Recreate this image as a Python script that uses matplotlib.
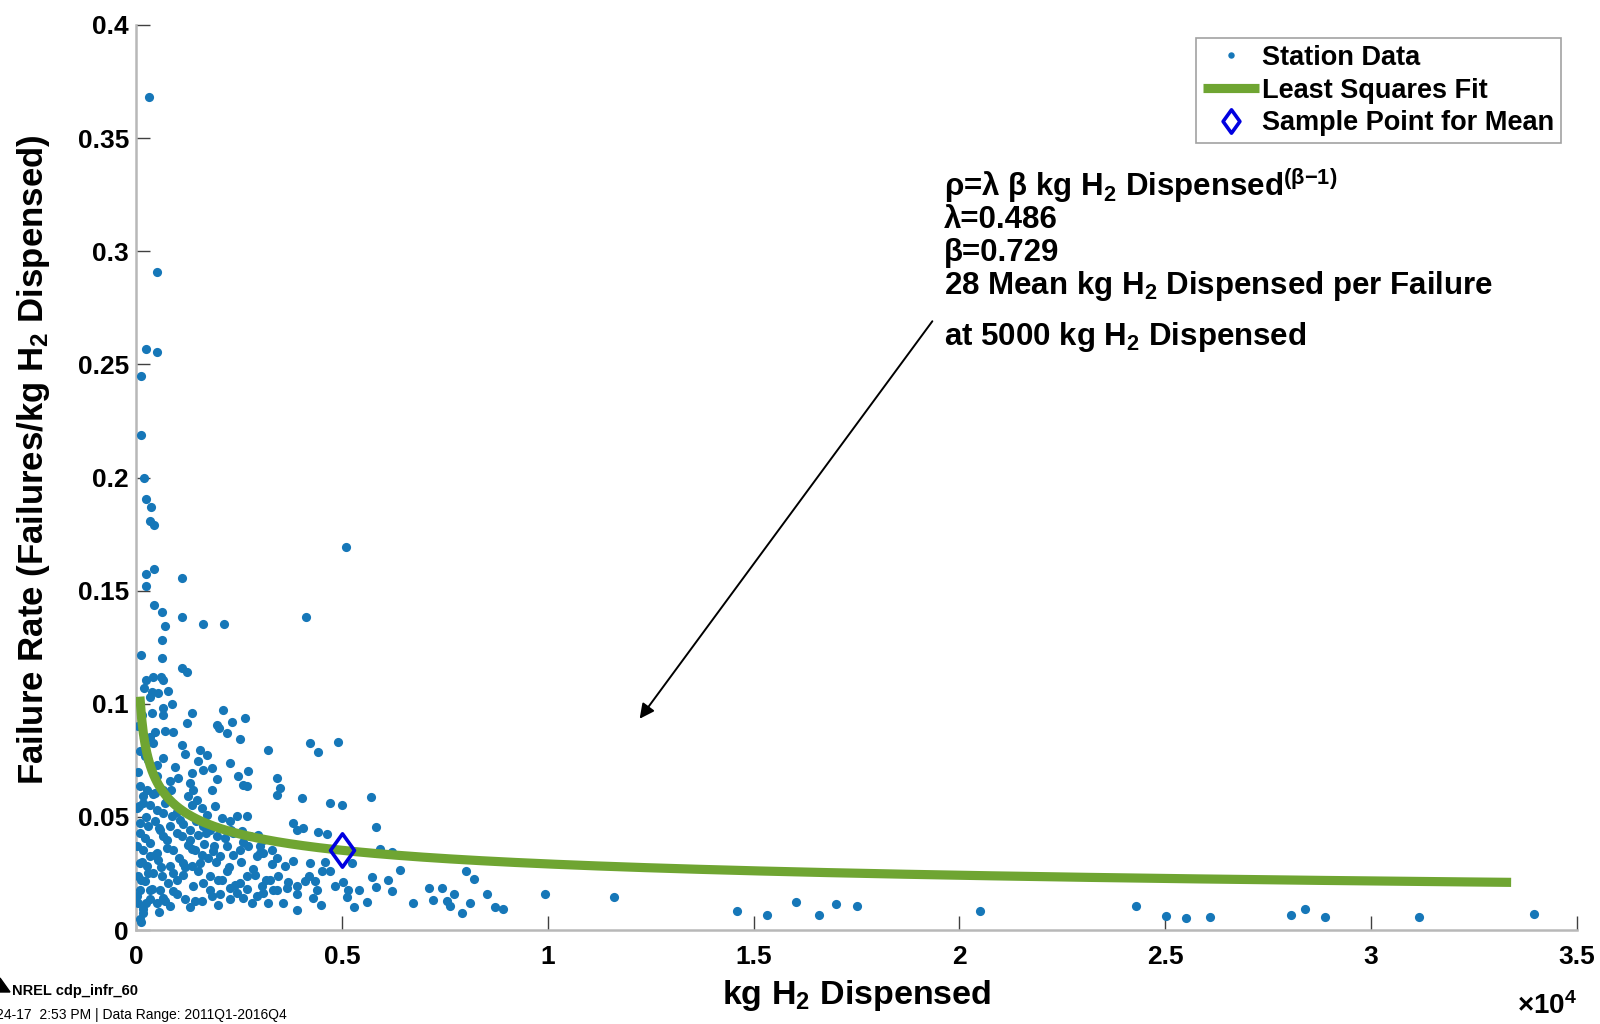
import numpy as np
import matplotlib
matplotlib.use("Agg")
import matplotlib.pyplot as plt
from matplotlib.path import Path
from matplotlib.patches import Polygon, FancyArrowPatch

FONT = ['Liberation Sans', 'DejaVu Sans']
plt.rcParams['font.family'] = FONT
plt.rcParams['font.weight'] = 'bold'
plt.rcParams['mathtext.fontset'] = 'custom'
plt.rcParams['mathtext.bf'] = 'Liberation Sans:bold'
plt.rcParams['mathtext.rm'] = 'Liberation Sans:bold'
plt.rcParams['mathtext.it'] = 'Liberation Sans:bold:italic'
plt.rcParams['mathtext.default'] = 'bf'

# ---------------- data ----------------
station_kg = [
    316, 517, 236, 517, 121, 121, 202, 236, 357, 340, 437, 5101, 437, 236, 236,
    1110, 437, 639, 1110, 1620, 2130, 4122, 712, 639, 121, 639, 1110, 1231, 236,
    405, 656, 202, 542, 770, 340,
    380, 664, 867, 664, 1353, 2122,
    1231, 907, 462, 340, 1960, 2025, 2325, 2649, 2203, 2527, 3216, 4228, 4431, 4917,
    1110, 421, 97, 219, 1555, 1717, 664, 502, 1515, 1839, 1636, 1353, 2284,
    2487, 2730, 2608, 2689, 1029, 826, 1312, 1393, 1960, 3418, 3499, 3418, 97, 259,
    178, 462, 664, 745,
    20, 178, 340, 502, 664, 867, 1069, 1272, 1474, 1353, 1596, 1717, 1920, 2082,
    2284, 2446, 2689, 4026, 4714, 4998, 1839,
    97, 300, 462, 583, 826, 988, 1110, 1312, 1515, 1636, 1798, 1960, 2163, 2365,
    2568, 2770, 2973, 3094, 3823, 3904, 4066, 4431, 4633, 97, 219, 340, 664,
    20, 178, 340, 502, 745, 907, 1272, 1434, 1596, 1758, 1879, 2041, 2203, 2365,
    2527, 2730, 2932, 3094, 3297, 3418, 3620, 3823, 4228, 4511, 4714, 97, 259, 543,
    826, 1150, 1353, 1555,
    57, 219, 421, 624, 786, 988, 1150, 1393, 1636, 1798, 2001, 2203, 2284, 2527,
    2689, 2892, 3054, 3256, 3418, 3661, 3904, 4107, 4350, 4390, 4836, 97, 340, 583, 907,
    57, 178, 340, 502, 664, 826, 1191, 1434, 1839, 2041, 2284, 2446, 2811, 2932,
    3094, 3337, 3580, 4309, 97, 178, 114,
    150, 300, 450, 600, 750, 900, 1050, 1200, 1350, 1500, 1650, 1800, 1950, 2100,
    2250, 2400, 2550, 2700, 2850, 3000, 3150, 3300, 3450, 3700, 3900, 4200, 4600,
    80, 250, 420, 560, 700, 850, 1000, 1150, 1300, 1450, 1700, 1900, 2300, 2600, 3000,
    60, 200, 300, 500, 700, 950, 1200, 50, 150, 400, 600,
    30, 120, 250, 400, 550, 700, 1000, 1300, 1600, 2000, 2600, 3200, 3900, 4500, 5300,
    5700, 5822, 5927, 6210, 5239, 5036, 5158, 5117, 5425, 5619, 5725, 5822, 6130,
    6210, 6413, 6721, 7126, 7223, 7426, 7547, 7725, 7628, 7911, 8017, 8114, 8219,
    8519, 8722, 8908, 9937,
    11619, 14608, 15321, 16026, 16601, 17006, 17508, 20505,
    24294, 25013, 25509, 26079, 28062, 28385, 28880, 31161, 33963,
]
station_rate = [
    0.368, 0.2907, 0.257, 0.2553, 0.245, 0.219, 0.1997, 0.1905, 0.187, 0.1808, 0.1789,
    0.1692, 0.1596, 0.1575, 0.1521, 0.1554, 0.1437, 0.1404, 0.1385, 0.1354, 0.1354,
    0.1385, 0.1342, 0.1280, 0.1216, 0.1204, 0.1158, 0.1139, 0.1105, 0.1117, 0.1106,
    0.1068, 0.1046, 0.1058, 0.1031,
    0.0961, 0.0980, 0.0999, 0.0951, 0.0958, 0.0973,
    0.0917, 0.0873, 0.0877, 0.0855, 0.0907, 0.0892, 0.0921, 0.0936, 0.0870, 0.0843,
    0.0796, 0.0826, 0.0785, 0.0833,
    0.0818, 0.0826, 0.0789, 0.0767, 0.0796, 0.0774, 0.0760, 0.0730, 0.0745, 0.0716,
    0.0708, 0.0694, 0.0738,
    0.0679, 0.0701, 0.0642, 0.0635, 0.0671, 0.0657, 0.0649, 0.0620, 0.0667, 0.0671,
    0.0627, 0.0598, 0.0635, 0.0620, 0.0591, 0.0605, 0.0620, 0.0576,
    0.0539, 0.0561, 0.0554, 0.0532, 0.0517, 0.0502, 0.0488, 0.0591, 0.0576, 0.0554,
    0.0539, 0.0510, 0.0546, 0.0495, 0.0480, 0.0502, 0.0502, 0.0583, 0.0561, 0.0554,
    0.0620,
    0.0473, 0.0458, 0.0480, 0.0444, 0.0458, 0.0429, 0.0414, 0.0444, 0.0422, 0.0458,
    0.0444, 0.0414, 0.0407, 0.0429, 0.0436, 0.0414, 0.0422, 0.0400, 0.0473, 0.0444,
    0.0451, 0.0432, 0.0426, 0.0429, 0.0407, 0.0385, 0.0414,
    0.0370, 0.0355, 0.0326, 0.0341, 0.0363, 0.0355, 0.0377, 0.0355, 0.0333, 0.0319,
    0.0348, 0.0326, 0.0370, 0.0333, 0.0355, 0.0370, 0.0326, 0.0341, 0.0355, 0.0319,
    0.0282, 0.0304, 0.0297, 0.0260, 0.0260, 0.0297, 0.0282, 0.0311, 0.0282, 0.0297,
    0.0282, 0.0297,
    0.0238, 0.0216, 0.0252, 0.0238, 0.0208, 0.0223, 0.0245, 0.0194, 0.0208, 0.0179,
    0.0223, 0.0260, 0.0186, 0.0208, 0.0238, 0.0245, 0.0194, 0.0223, 0.0179, 0.0186,
    0.0194, 0.0216, 0.0216, 0.0179, 0.0194, 0.0179, 0.0179, 0.0179, 0.0172,
    0.0120, 0.0091, 0.0135, 0.0120, 0.0142, 0.0105, 0.0135, 0.0128, 0.0150, 0.0157,
    0.0135, 0.0164, 0.0120, 0.0150, 0.0164, 0.0179, 0.0120, 0.0142, 0.0047, 0.0076,
    0.0037,
    0.030, 0.025, 0.033, 0.028, 0.040, 0.025, 0.032, 0.028, 0.036, 0.026, 0.038,
    0.024, 0.030, 0.022, 0.028, 0.020, 0.030, 0.018, 0.027, 0.034, 0.022, 0.029,
    0.024, 0.021, 0.016, 0.024, 0.030,
    0.055, 0.050, 0.060, 0.045, 0.056, 0.062, 0.052, 0.047, 0.040, 0.048, 0.043,
    0.037, 0.044, 0.039, 0.037,
    0.070, 0.085, 0.075, 0.068, 0.088, 0.072, 0.078, 0.090, 0.095, 0.105, 0.112,
    0.015, 0.022, 0.012, 0.018, 0.008, 0.013, 0.016, 0.010, 0.013, 0.011, 0.014,
    0.012, 0.009, 0.011, 0.010,
    0.0588, 0.0454, 0.0358, 0.0344, 0.0297, 0.0211, 0.0179, 0.0147, 0.0176, 0.0123,
    0.0235, 0.0191, 0.0223, 0.0172, 0.0264, 0.0120, 0.0186, 0.0132, 0.0186, 0.0128,
    0.0161, 0.0108, 0.0073, 0.0260, 0.0120, 0.0226, 0.0157, 0.0103, 0.0094, 0.0161,
    0.0144, 0.0086, 0.0067, 0.0125, 0.0067, 0.0114, 0.0104, 0.0082,
    0.0108, 0.0063, 0.0054, 0.0059, 0.0068, 0.0095, 0.0059, 0.0059, 0.0072,
]

# Least-squares fit parameters (as printed on the chart)
lam = 0.486
beta = 0.729
fit_start_kg = 95
fit_end_kg = 33400
sample_kg = 5000

x_ticks = [0, 5000, 10000, 15000, 20000, 25000, 30000, 35000]
x_tick_labels = ['0', '0.5', '1', '1.5', '2', '2.5', '3', '3.5']
y_ticks = [0, 0.05, 0.1, 0.15, 0.2, 0.25, 0.3, 0.35, 0.4]
y_tick_labels = ['0', '0.05', '0.1', '0.15', '0.2', '0.25', '0.3', '0.35', '0.4']

# ---------------- figure ----------------
W, H = 1600, 1024
fig = plt.figure(figsize=(W / 100, H / 100), dpi=100)
ax = fig.add_axes([136 / W, 1 - 930 / H, 1441 / W, 905 / H])

dot_color = '#1677b8'
green = '#6fa532'
dblue = '#0000e0'

ax.plot(station_kg, station_rate, 'o', ms=6.6, mfc=dot_color, mec='none',
        label='Station Data', zorder=3)

fit_x = np.linspace(fit_start_kg, fit_end_kg, 800)
fit_y = lam * beta * fit_x ** (beta - 1)
ax.plot(fit_x, fit_y, '-', color=green, lw=6.6, solid_capstyle='butt',
        label='Least Squares Fit', zorder=4)

diamond = Path([(0, 1), (0.72, 0), (0, -1), (-0.72, 0), (0, 1)],
               [Path.MOVETO, Path.LINETO, Path.LINETO, Path.LINETO, Path.CLOSEPOLY])
sample_y = lam * beta * sample_kg ** (beta - 1)
ax.plot([sample_kg], [sample_y], linestyle='none', marker=diamond, ms=24,
        mfc='none', mec=dblue, mew=2.6, label='Sample Point for Mean', zorder=5)

ax.set_xlim(0, 35000)
ax.set_ylim(0, 0.4)
ax.set_xticks(x_ticks)
ax.set_xticklabels(x_tick_labels)
ax.set_yticks(y_ticks)
ax.set_yticklabels(y_tick_labels)
for s in ['top', 'right']:
    ax.spines[s].set_visible(False)
for s in ['left', 'bottom']:
    ax.spines[s].set_color('#b8b8b8')
    ax.spines[s].set_linewidth(1.8)
ax.tick_params(axis='both', direction='in', length=10, width=1.0, color='#404040',
               labelsize=19)
ax.tick_params(axis='x', pad=11)
ax.tick_params(axis='y', pad=5)
for lab in ax.get_xticklabels() + ax.get_yticklabels():
    lab.set_fontweight('bold')

xl = ax.set_xlabel('kg H$_2$ Dispensed', fontsize=24.5, fontweight='bold')
xl.set_va('center')
ax.xaxis.set_label_coords(0.5, -0.072)
yl = ax.set_ylabel('Failure Rate (Failures/kg H$_2$ Dispensed)', fontsize=25,
                   fontweight='bold')
yl.set_va('center')
ax.yaxis.set_label_coords(-0.071, 0.52)

fig.text(1577 / W, 1 - 1014 / H, r'$\mathregular{\times10^{4}}$', ha='right',
         va='baseline', fontsize=20)

leg = ax.legend(loc='upper right', bbox_to_anchor=((1561 - 136) / 1441, (930 - 38) / 905),
                borderaxespad=0, fontsize=19.5, frameon=True, fancybox=False,
                edgecolor='#8a8a8a', handlelength=2.1, handletextpad=0.1,
                labelspacing=0.25, borderpad=0.25, markerscale=0.7)
leg.get_frame().set_linewidth(1.2)
for t in leg.get_texts():
    t.set_fontweight('bold')

# annotation text
x0 = 944 / W
lines = [
    (196, 'ρ=λ β kg H$_2$ Dispensed$^{(\\beta{-}1)}$'),
    (228, 'λ=0.486'),
    (261, 'β=0.729'),
    (294, '28 Mean kg H$_2$ Dispensed per Failure'),
    (345, 'at 5000 kg H$_2$ Dispensed'),
]
for yb, s in lines:
    fig.text(x0, 1 - yb / H, s, fontsize=22.5, fontweight='bold', ha='left',
             va='baseline')

fig.patches.append(FancyArrowPatch(
    (934 / W, 1 - 319 / H), (638 / W, 1 - 721 / H), transform=fig.transFigure,
    arrowstyle='-|>', mutation_scale=22, color='black', lw=1.4))

# title, cut off at the top edge as in the source image
fig.text(847 / W, 1 + 8 / H, 'Failure Rate (Station Infrastructure), by kg H$_2$ Dispensed',
         ha='center', va='baseline', fontsize=21, fontweight='bold')

# footer
fig.patches.append(Polygon([(0, 1 - 992 / H), (10 / W, 1 - 992 / H), (0, 1 - 978 / H)],
                           closed=True, transform=fig.transFigure, color='black'))
fig.text(12 / W, 1 - 995 / H, 'NREL cdp_infr_60', fontsize=10.5, fontweight='bold',
         ha='left', va='baseline')
fig.text(-4 / W, 1 - 1019 / H, '24-17  2:53 PM | Data Range: 2011Q1-2016Q4',
         fontsize=10.0, fontweight='normal', ha='left', va='baseline')

fig.savefig('out.png', dpi=100)
